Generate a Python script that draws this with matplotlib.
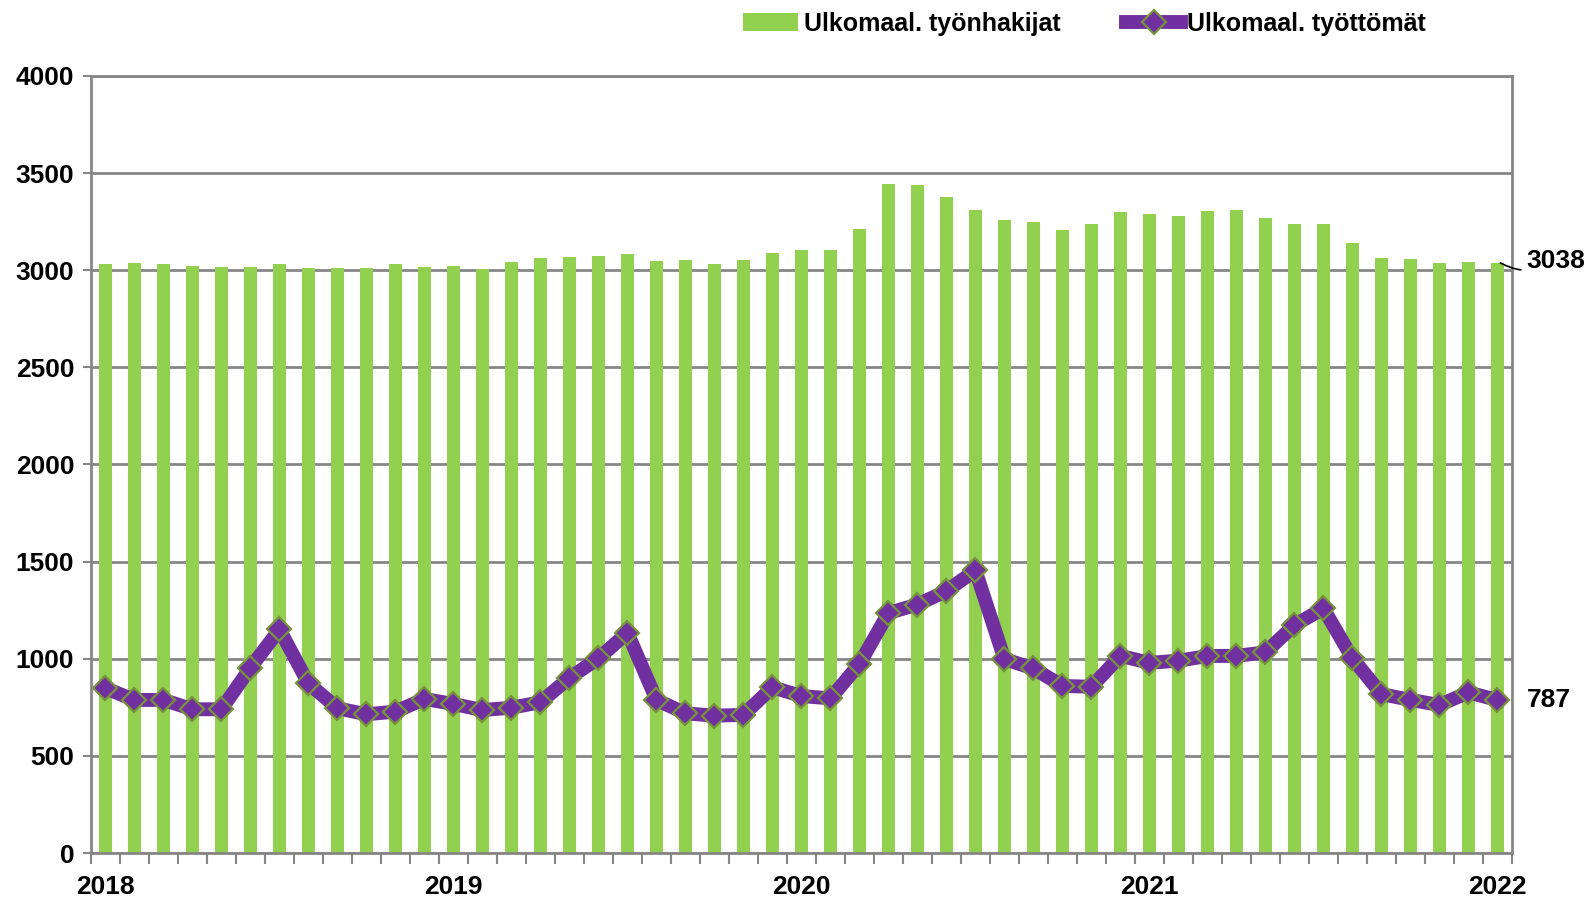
import numpy as np
import matplotlib
matplotlib.use('Agg')
import matplotlib.pyplot as plt

plt.rcParams['font.family'] = ['Liberation Sans', 'DejaVu Sans']
plt.rcParams['font.weight'] = 'bold'

# monthly data Jan 2018 .. Jan 2022
year_labels = ['2018', '2019', '2020', '2021', '2022']
tyonhakijat = [3031, 3038, 3034, 3022, 3016, 3016, 3034, 3012, 3012, 3012, 3031, 3017,
               3022, 3007, 3041, 3062, 3069, 3074, 3084, 3048, 3053, 3034, 3055, 3091,
               3103, 3103, 3210, 3445, 3438, 3378, 3310, 3259, 3250, 3209, 3240, 3300,
               3290, 3281, 3305, 3309, 3269, 3236, 3240, 3140, 3064, 3057, 3036, 3040,
               3038]
tyottomat = [848, 788, 788, 740, 740, 954, 1151, 873, 745, 714, 728, 793,
             767, 736, 748, 776, 902, 1002, 1134, 788, 719, 707, 711, 853,
             808, 796, 973, 1236, 1279, 1349, 1455, 998, 950, 860, 856, 1015,
             979, 990, 1014, 1015, 1033, 1173, 1259, 1002, 818, 788, 762, 827,
             787]

green = '#92D050'
purple = '#7030A0'
olive = '#77933C'
grid_c = '#868686'

x = np.arange(len(tyonhakijat))

fig = plt.figure(figsize=(15.88, 8.98), dpi=100)
ax = fig.add_axes([0.0573, 0.0501, 0.8948, 0.8653])

bars = ax.bar(x, tyonhakijat, width=0.44, color=green, zorder=2, label='Ulkomaal. työnhakijat')
line, = ax.plot(x, tyottomat, color=purple, lw=10, marker='D', markersize=12,
                markerfacecolor=purple, markeredgecolor=olive, markeredgewidth=1.6,
                zorder=3, label='Ulkomaal. työttömät', solid_joinstyle='round')

ax.set_xlim(-0.5, len(x) - 0.5)
ax.set_ylim(0, 4000)
ax.set_yticks(np.arange(0, 4001, 500))
ax.tick_params(axis='y', labelsize=19, length=6, color=grid_c, width=1.5, pad=6)
ax.grid(axis='y', color=grid_c, lw=2, zorder=0)

# boundary tick marks, year labels at January positions
ax.set_xticks(np.arange(-0.5, len(x), 1))
ax.set_xticklabels([])
ax.tick_params(axis='x', which='major', length=8, color=grid_c, width=1.5)
ax.set_xticks(np.arange(0, len(x), 12), minor=True)
ax.set_xticklabels(year_labels, minor=True)
ax.tick_params(axis='x', which='minor', length=0, labelsize=19, pad=16)

for s in ['left', 'right', 'bottom', 'top']:
    ax.spines[s].set_color(grid_c)
    ax.spines[s].set_linewidth(2)

# end labels
ax.annotate(str(tyonhakijat[-1]), xy=(x[-1] + 0.1, tyonhakijat[-1]),
            xytext=(x[-1] + 1.0, tyonhakijat[-1] + 10), fontsize=19,
            va='center', ha='left', annotation_clip=False,
            arrowprops=dict(arrowstyle='-', color='black', lw=1.2,
                            connectionstyle='arc3,rad=-0.3', shrinkA=2, shrinkB=0))
ax.text(x[-1] + 1.0, tyottomat[-1], str(tyottomat[-1]), fontsize=19,
        va='center', ha='left')

fig.legend(handles=[bars, line], loc='upper center', bbox_to_anchor=(0.683, 1.012),
           ncol=2, frameon=False, fontsize=18, handlelength=2.2, handletextpad=0.25,
           columnspacing=2.6)

fig.savefig('out.png', dpi=100)
